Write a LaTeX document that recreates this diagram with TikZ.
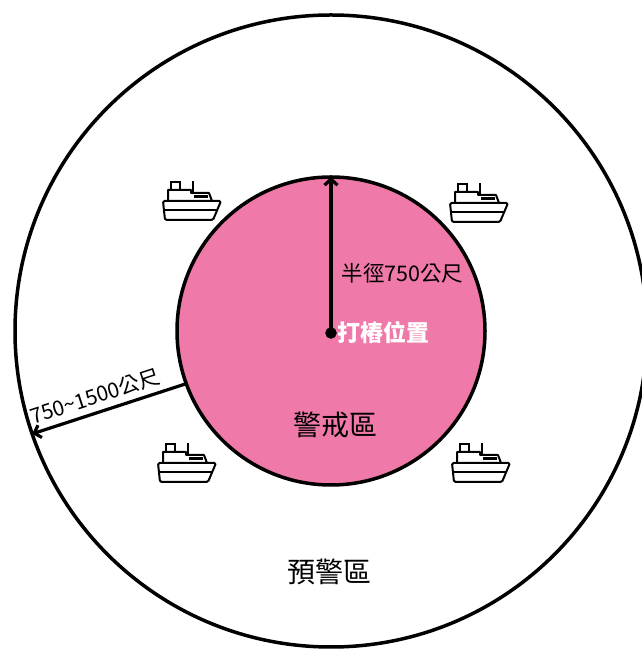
\documentclass[tikz,border=0pt]{standalone}
\usepackage{fontspec}
\setmainfont{Noto Sans CJK TC}
\usetikzlibrary{positioning,arrows.meta}
\definecolor{warnpink}{RGB}{239,121,168}

\tikzset{
  zone/.style={line width=3.5pt},
  ruler/.style={->,>={Straight Barb[length=6pt,width=13pt]},line width=3.2pt},
  boat/.pic={
    \draw[line width=2pt,line join=round,rounded corners=1.5pt]
      (-27,-20) -- (21,-20) -- (29,-1) -- (-29,-1) -- cycle;
    \draw[line width=2pt] (-28,-10) -- (25,-10);
    \draw[line width=2pt,line join=round]
      (-24,-1) -- (-24,10) -- (-1,10) -- (-1,7) -- (17,7) -- (20,-1);
    \fill (2,2) rectangle (16,5);
    \draw[line width=2pt] (-21,10) -- (-21,18) -- (-12,18) -- (-12,10);
    \draw[line width=2pt] (1,7) -- (1,19);
  }
}

\begin{document}
\begin{tikzpicture}[x=1pt,y=1pt]
  \useasboundingbox (0,0) rectangle (641,653);
  \coordinate (c) at (331,322);
  \coordinate (pile) at (331,320);
  \draw[zone] (c) circle [radius=316pt];
  \draw[zone,fill=warnpink] (c) circle [radius=154pt];
  \coordinate (innertop) at ([shift={(90:154pt)}]c);
  \coordinate (inneredge) at ([shift={(200:154pt)}]c);
  \coordinate (outeredge) at ([shift={(199:316pt)}]c);
  \draw[ruler] (pile) -- (innertop);
  \draw[fill] (pile) circle [radius=5.5pt];
  \draw[ruler] (inneredge) -- (outeredge)
    node[pos=0.56,sloped,above=2pt,font=\fontsize{21}{21}\selectfont] (range) {750\textasciitilde1500公尺};
  \node[right=3pt of pile,white,font=\bfseries\fontsize{23}{23}\selectfont] (pilename) {打樁位置};
  \node[anchor=west,font=\fontsize{21.5}{21.5}\selectfont] (radius) at (338,380) {半徑750公尺};
  \node[font=\fontsize{28}{28}\selectfont] (alertzone) at (335,228) {警戒區};
  \node[font=\fontsize{28}{28}\selectfont] (warnzone) at (329,81) {預警區};
  \foreach \bx/\by in {192/453, 479/451, 187/191, 481/191}
    \pic at (\bx,\by) {boat};
\end{tikzpicture}
\end{document}
